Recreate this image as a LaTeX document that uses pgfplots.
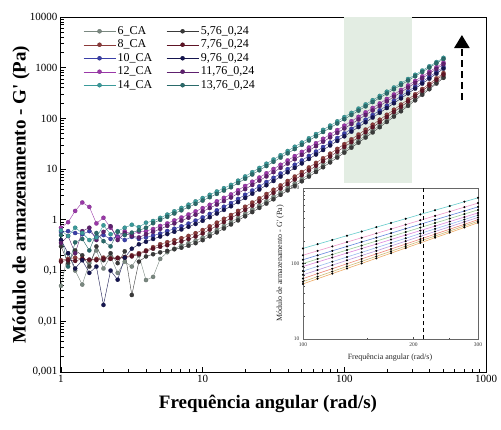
\documentclass[border=0pt]{standalone}
\usepackage{fontspec}
\setmainfont{Liberation Serif}
\usepackage{pgfplots}
\usepackage{pgfplotstable}
\pgfplotsset{compat=1.18}
\usetikzlibrary{arrows.meta}

\definecolor{c6}{HTML}{7A8880}
\definecolor{c576}{HTML}{3A3A3A}
\definecolor{c8}{HTML}{8B3A3A}
\definecolor{c776}{HTML}{5E1425}
\definecolor{c10}{HTML}{3A3FA8}
\definecolor{c976}{HTML}{15154F}
\definecolor{c12}{HTML}{9A38A8}
\definecolor{c1176}{HTML}{5E206E}
\definecolor{c14}{HTML}{3A9A9A}
\definecolor{c1376}{HTML}{2A6A6A}
\definecolor{band}{HTML}{E3EDE3}
\definecolor{i1}{HTML}{66CCCC}
\definecolor{i2}{HTML}{EE99CC}
\definecolor{i3}{HTML}{6688DD}
\definecolor{i4}{HTML}{99CC99}
\definecolor{i5}{HTML}{DD88DD}
\definecolor{i6}{HTML}{99BBEE}
\definecolor{i7}{HTML}{BB99DD}
\definecolor{i8}{HTML}{EE8877}
\definecolor{i9}{HTML}{CCBB77}
\definecolor{i10}{HTML}{EEAA66}

\pgfplotstableread{
f c6 c576 c8 c776 c10 c976 c12 c1176 c14 c1376
1 0.05 0.30 0.16 0.15 0.58 0.40 0.70 0.35 0.62 0.50
1.122 0.22 0.14 0.17 0.16 0.60 0.22 0.90 0.48 0.48 0.12
1.259 0.10 0.25 0.18 0.155 0.55 0.11 1.50 0.22 0.70 0.36
1.413 0.053 0.20 0.17 0.17 0.52 0.16 2.20 0.60 0.55 0.42
1.585 0.14 0.12 0.16 0.165 0.60 0.09 1.80 0.70 0.40 0.25
1.778 0.25 0.30 0.17 0.16 0.45 0.12 0.85 0.40 0.45 0.55
1.995 0.11 0.16 0.18 0.17 0.50 0.021 1.10 0.58 0.78 0.38
2.239 0.19 0.22 0.175 0.17 0.42 0.10 0.70 0.75 0.52 0.30
2.512 0.09 0.14 0.18 0.175 0.47 0.066 0.45 0.40 0.60 0.58
2.818 0.15 0.24 0.185 0.18 0.40 0.18 0.60 0.55 0.70 0.50
3.162 0.12 0.033 0.20 0.19 0.46 0.27 0.52 0.48 0.80 0.56
3.548 0.20 0.15 0.22 0.21 0.42 0.33 0.58 0.45 0.72 0.62
3.981 0.065 0.19 0.25 0.24 0.45 0.37 0.60 0.52 0.88 0.70
4.467 0.075 0.21 0.29 0.27 0.49 0.42 0.66 0.58 0.95 0.86
5.012 0.17 0.229 0.331 0.295 0.537 0.468 0.759 0.661 1.096 1.00
5.623 0.23 0.245 0.363 0.316 0.603 0.525 0.851 0.759 1.27 1.148
6.310 0.27 0.263 0.398 0.347 0.668 0.582 0.977 0.851 1.479 1.334
7.079 0.314 0.282 0.435 0.377 0.748 0.647 1.114 0.964 1.718 1.542
7.943 0.346 0.309 0.483 0.417 0.845 0.729 1.276 1.099 1.995 1.782
8.913 0.389 0.347 0.547 0.470 0.967 0.831 1.469 1.262 2.317 2.068
10 0.447 0.398 0.630 0.541 1.117 0.959 1.702 1.459 2.692 2.399
11.22 0.531 0.474 0.746 0.641 1.312 1.130 1.986 1.710 3.126 2.793
12.59 0.632 0.565 0.883 0.760 1.542 1.330 2.323 2.000 3.631 3.251
14.13 0.755 0.676 1.050 0.906 1.816 1.570 2.716 2.350 4.217 3.776
15.85 0.904 0.811 1.247 1.081 2.143 1.854 3.184 2.754 4.898 4.395
17.78 1.086 0.975 1.503 1.303 2.588 2.239 3.855 3.334 5.937 5.333
19.95 1.309 1.175 1.816 1.570 3.126 2.704 4.656 4.027 7.194 6.457
22.39 1.585 1.422 2.198 1.901 3.793 3.273 5.649 4.887 8.72 7.834
25.12 1.919 1.722 2.661 2.301 4.592 3.963 6.839 5.916 10.57 9.484
28.18 2.333 2.094 3.236 2.799 5.571 4.819 8.299 7.178 12.81 11.51
31.62 2.838 2.547 3.926 3.404 6.761 5.848 10.07 8.710 15.52 13.93
35.48 3.467 3.112 4.797 4.150 8.222 7.129 12.22 10.59 18.82 16.90
39.81 4.246 3.811 5.848 5.070 10.02 8.670 14.86 12.85 22.80 20.46
44.67 5.200 4.677 7.161 6.223 12.22 10.59 18.07 15.67 27.65 24.89
50.12 6.397 5.754 8.790 7.621 14.89 12.94 21.93 19.05 33.50 30.13
56.23 7.889 7.112 10.81 9.397 18.24 15.85 26.73 23.28 40.6 36.64
63.10 9.75 8.790 13.30 11.59 22.28 19.41 32.51 28.38 49.2 44.36
70.79 12.08 10.91 16.41 14.32 27.35 23.82 39.72 34.67 59.6 53.95
79.43 15.00 13.55 20.23 17.70 33.50 29.24 48.42 42.27 72.3 65.31
89.13 18.66 16.90 25.12 21.98 41.11 36.06 59.02 51.76 87.6 79.43
100 23.28 21.13 31.12 27.35 50.58 44.36 72.11 63.39 106.2 96.4
112.2 29.11 26.49 38.73 34.12 62.23 54.83 88.1 77.62 128.7 117.2
125.9 36.48 33.27 48.19 42.56 76.56 67.76 107.6 95.1 156.0 142.2
141.3 45.92 41.98 60.26 53.46 94.6 83.95 131.8 116.9 189.0 173.0
158.5 57.81 52.97 75.34 66.99 116.7 104.0 161.1 143.2 229.1 209.9
177.8 73.11 67.14 94.4 84.33 144.5 129.1 197.7 176.6 277.7 255.3
199.5 92.47 85.11 118.3 106.2 178.6 160.3 242.1 216.8 336.5 309.7
223.9 117.5 108.4 148.9 134.0 221.8 199.5 297.2 267.3 407.8 376.7
251.2 149.3 138.4 187.9 169.4 275.4 248.3 363.9 328.9 494.3 458.1
281.8 190.5 177.0 237.1 215.3 342.0 310.5 447.7 405.5 599.2 557.2
316.2 243.2 227.0 299.9 273.5 425.6 387.3 549.5 500.0 726.1 677.5
354.8 312.6 292.4 381.1 349.1 530.9 485.3 676.1 619.4 880.2 824.1
398.1 400.9 376.7 483.1 444.6 660.7 608.1 831.8 763.8 1067 1002
446.7 516.4 487.5 616.6 570.2 826.0 763.8 1023 946.2 1293 1222
501.2 666.8 631.0 785.2 729.5 1030 959.4 1259 1172 1567 1483
}\maindata

\pgfplotstableread{
f L1 L2 L3 L4 L5 L6 L7 L8 L9 L10
100 158.5 128.8 112.2 100.0 91.2 79.4 70.8 63.1 57.5 53.7
109.6 180.3 147.2 128.5 114.8 104.7 91.6 82.0 73.5 67.1 62.8
120.2 205.1 168.3 147.2 131.5 119.9 105.7 95.1 85.3 78.3 73.5
131.8 233.9 192.3 168.3 151.0 137.7 121.9 110.2 99.3 91.6 85.9
144.5 265.5 219.3 192.8 173.0 157.8 140.6 127.4 115.1 106.7 100.2
158.5 302.7 250.6 220.3 198.2 180.7 162.2 147.2 134.0 124.5 117.2
173.8 344.4 286.4 252.3 227.5 207.5 187.1 170.6 155.6 145.2 137.1
190.5 391.7 327.3 289.1 261.2 238.2 215.8 197.7 181.1 169.8 160.3
208.9 446.7 374.1 331.1 299.2 272.9 249.5 229.1 210.4 198.2 187.5
229.1 508.2 427.6 379.3 343.6 313.3 287.7 265.5 244.9 231.2 219.8
251.2 576.8 487.5 433.5 393.6 358.9 331.1 306.9 284.4 269.2 256.4
275.4 657.7 557.2 495.5 451.9 412.1 381.9 355.6 330.4 314.8 299.9
300 741.3 631.0 562.3 512.9 467.7 436.5 407.4 380.2 363.1 346.7
}\insetdata

\pgfplotsset{
  mser/.style={color=#1, line width=0.4pt, mark=*, mark size=2.1pt,
    mark options={solid, fill=#1, draw=#1!75!black, line width=0.2pt}},
  iser/.style={color=#1, line width=0.6pt, mark=*, mark size=0.7pt,
    mark options={fill=black, draw=black}},
}

\begin{document}
\begin{tikzpicture}
\begin{axis}[
  at={(0pt,0pt)}, anchor=south west,
  scale only axis, width=425pt, height=355pt,
  xmode=log, ymode=log,
  xmin=1, xmax=1000, ymin=0.001, ymax=10000,
  xtick={1,10,100,1000}, xticklabels={1,10,100,1000},
  minor xtick={2,3,4,5,6,7,8,9,20,30,40,50,60,70,80,90,200,300,400,500,600,700,800,900},
  ytick={0.001,0.01,0.1,1,10,100,1000,10000},
  yticklabels={{0,001},{0,01},{0,1},1,10,100,1000,10000},
  minor ytick={0.002,0.003,0.004,0.005,0.006,0.007,0.008,0.009,
    0.02,0.03,0.04,0.05,0.06,0.07,0.08,0.09,
    0.2,0.3,0.4,0.5,0.6,0.7,0.8,0.9,
    2,3,4,5,6,7,8,9,20,30,40,50,60,70,80,90,
    200,300,400,500,600,700,800,900,2000,3000,4000,5000,6000,7000,8000,9000},
  tick pos=left, tick align=inside,
  major tick length=5pt, minor tick length=3pt,
  every tick/.style={black, line width=0.8pt},
  axis line style={line width=1pt},
  tick label style={font=\fontsize{11}{13}\selectfont},
  xlabel={Frequência angular (rad/s)},
  ylabel={Módulo de armazenamento - G\textquotesingle{} (Pa)},
  every axis x label/.style={at={(axis description cs:0.487,-0.09)}, anchor=center,
    font=\bfseries\fontsize{19}{22}\selectfont},
  every axis y label/.style={at={(axis description cs:-0.094,0.5)}, rotate=90, anchor=center,
    font=\bfseries\fontsize{19}{22}\selectfont},
  legend columns=2,
  legend cell align=left,
  legend style={at={(axis description cs:0.045,0.985)}, anchor=north west,
    draw=none, fill=none, font=\fontsize{12}{14}\selectfont,
    /tikz/every even column/.append style={column sep=12pt}},
  legend image code/.code={\draw[mark repeat=2,mark phase=2,#1] plot coordinates {(0pt,0pt) (16pt,0pt) (32pt,0pt)};},
]
\fill[band] (axis cs:100,5.3) rectangle (axis cs:300,10000);
\addplot[mser=c6] table[x=f,y=c6]{\maindata}; \addlegendentry{6\_CA}
\addplot[mser=c576] table[x=f,y=c576]{\maindata}; \addlegendentry{5,76\_0,24}
\addplot[mser=c8] table[x=f,y=c8]{\maindata}; \addlegendentry{8\_CA}
\addplot[mser=c776] table[x=f,y=c776]{\maindata}; \addlegendentry{7,76\_0,24}
\addplot[mser=c10] table[x=f,y=c10]{\maindata}; \addlegendentry{10\_CA}
\addplot[mser=c976] table[x=f,y=c976]{\maindata}; \addlegendentry{9,76\_0,24}
\addplot[mser=c12] table[x=f,y=c12]{\maindata}; \addlegendentry{12\_CA}
\addplot[mser=c1176] table[x=f,y=c1176]{\maindata}; \addlegendentry{11,76\_0,24}
\addplot[mser=c14] table[x=f,y=c14]{\maindata}; \addlegendentry{14\_CA}
\addplot[mser=c1376] table[x=f,y=c1376]{\maindata}; \addlegendentry{13,76\_0,24}
\draw[line width=2.4pt, dash pattern=on 7pt off 4pt, -{Triangle[width=15pt,length=13pt]}]
  (axis cs:676,231) -- (axis cs:676,4416);
\end{axis}

\begin{axis}[
  at={(242pt,33pt)}, anchor=south west,
  scale only axis, width=175pt, height=151pt,
  xmode=log, ymode=log,
  xmin=100, xmax=300, ymin=10, ymax=1000,
  xtick={100,200,300}, xticklabels={100,200,300},
  minor xtick={150,250},
  ytick={10,100,1000}, yticklabels={10,100,1000},
  minor ytick={20,30,40,50,60,70,80,90,200,300,400,500,600,700,800,900},
  tick pos=left, tick align=inside,
  major tick length=2.5pt, minor tick length=1.5pt,
  every tick/.style={black!70, line width=0.4pt},
  axis line style={black!60, line width=0.6pt},
  axis background/.style={fill=white},
  tick label style={font=\fontsize{5.5}{6}\selectfont, text=black!80},
  xlabel={Frequência angular (rad/s)},
  ylabel={Módulo de armazenamento - G\textquotesingle{} (Pa)},
  every axis x label/.style={at={(axis description cs:0.497,-0.126)}, anchor=center,
    font=\fontsize{8}{9}\selectfont, text=black!85},
  every axis y label/.style={at={(axis description cs:-0.13,0.5)}, rotate=90, anchor=center,
    font=\fontsize{8}{9}\selectfont, text=black!85},
]
\addplot[iser=i1] table[x=f,y=L1]{\insetdata};
\addplot[iser=i2] table[x=f,y=L2]{\insetdata};
\addplot[iser=i3] table[x=f,y=L3]{\insetdata};
\addplot[iser=i4] table[x=f,y=L4]{\insetdata};
\addplot[iser=i5] table[x=f,y=L5]{\insetdata};
\addplot[iser=i6] table[x=f,y=L6]{\insetdata};
\addplot[iser=i7] table[x=f,y=L7]{\insetdata};
\addplot[iser=i8] table[x=f,y=L8]{\insetdata};
\addplot[iser=i9] table[x=f,y=L9]{\insetdata};
\addplot[iser=i10] table[x=f,y=L10]{\insetdata};
\draw[black, line width=1.1pt, dash pattern=on 4pt off 3pt] (axis cs:213,10) -- (axis cs:213,1000);
\end{axis}
\pgfresetboundingbox
\path (-61pt,-57pt) rectangle (440pt,372pt);
\end{tikzpicture}
\end{document}
